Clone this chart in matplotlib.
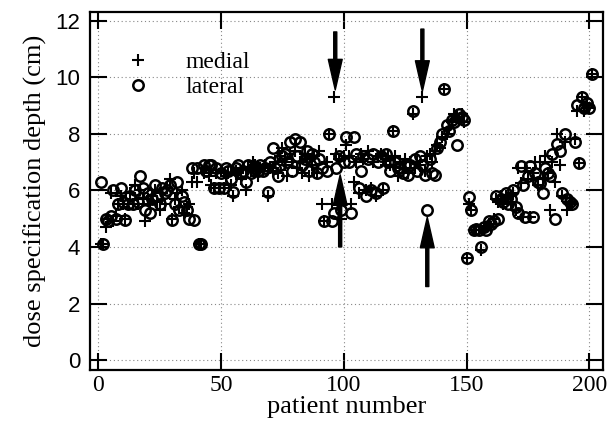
import matplotlib
matplotlib.use('Agg')
import matplotlib.pyplot as plt
import numpy as np

# dose specification depth per patient (cm)
medial = [
    4.1, 4.1, 4.7, 5.0, 5.9, 4.9, 5.1, 5.5, 5.8, 5.5,
    5.0, 5.5, 5.9, 5.5, 6.2, 5.5, 6.0, 5.7, 4.9, 5.7,
    5.5, 5.8, 6.0, 5.6, 5.3, 5.9, 5.5, 6.1, 6.4, 5.0,
    5.7, 5.9, 5.4, 6.0, 5.2, 5.4, 5.5, 6.3, 6.6, 6.3,
    4.1, 4.1, 6.6, 6.8, 6.5, 6.2, 6.1, 6.6, 6.1, 6.7,
    6.1, 6.5, 6.6, 6.2, 5.8, 6.7, 6.6, 6.4, 6.8, 6.0,
    6.8, 6.7, 7.0, 6.9, 6.5, 6.8, 6.7, 6.9, 5.8, 6.8,
    6.7, 7.0, 6.6, 7.2, 7.5, 6.9, 6.5, 7.3, 7.0, 7.4,
    6.8, 7.0, 6.6, 7.3, 7.1, 6.5, 6.9, 7.2, 6.6, 7.4,
    5.5, 4.9, 7.0, 8.0, 5.5, 9.3, 7.3, 7.1, 5.0, 7.2,
    7.6, 7.2, 5.5, 6.3, 7.0, 5.9, 7.3, 7.1, 6.0, 7.4,
    6.1, 7.0, 5.8, 7.2, 7.3, 6.0, 6.9, 7.2, 6.9, 8.1,
    7.2, 6.5, 7.0, 6.8, 7.1, 6.6, 7.0, 8.7, 6.8, 7.0,
    6.9, 9.3, 6.7, 7.2, 7.3, 7.0, 7.4, 7.6, 7.5, 7.9,
    9.6, 8.0, 8.2, 8.4, 8.7, 8.6, 8.5, 8.7, 8.4, 3.6,
    5.5, 5.3, 4.6, 4.6, 4.6, 3.9, 4.6, 4.7, 4.8, 4.7,
    5.0, 5.7, 5.6, 5.8, 5.5, 5.8, 5.7, 5.6, 5.9, 5.3,
    6.8, 6.25, 5.05, 6.8, 6.4, 5.05, 6.6, 7.0, 6.2, 7.0,
    6.4, 7.2, 6.6, 5.3, 7.0, 6.3, 8.0, 6.9, 5.8, 7.7,
    5.3, 5.6, 5.5, 7.8, 8.8, 6.95, 9.3, 8.8, 9.0, 8.9,
    10.1,
]
lateral = [
    6.3, 4.1, 5.0, 4.9, 5.1, 6.0, 5.0, 5.5, 6.1, 5.6,
    4.95, 5.5, 5.8, 5.5, 6.0, 5.6, 6.5, 6.1, 5.3, 5.9,
    5.2, 5.7, 6.2, 5.8, 5.5, 6.1, 5.9, 6.0, 6.2, 4.95,
    5.5, 6.3, 5.3, 5.8, 5.6, 5.3, 5.0, 6.8, 4.95, 6.8,
    4.1, 4.1, 6.9, 6.7, 6.9, 6.9, 6.1, 6.8, 6.1, 6.6,
    6.1, 6.8, 6.7, 6.4, 5.95, 6.8, 6.9, 6.6, 6.7, 6.3,
    6.9, 6.6, 6.8, 6.8, 6.7, 6.9, 6.7, 6.8, 5.95, 7.0,
    7.5, 6.8, 6.5, 6.9, 7.2, 7.3, 7.0, 7.7, 6.7, 7.8,
    7.2, 7.7, 6.9, 7.1, 7.4, 6.7, 7.3, 7.0, 6.6, 7.1,
    6.8, 4.9, 6.7, 8.0, 4.9, 5.2, 6.8, 7.2, 5.3, 7.0,
    7.9, 7.0, 5.2, 7.9, 7.3, 6.1, 6.7, 7.2, 5.8, 7.1,
    6.0, 7.3, 5.9, 7.0, 7.2, 6.1, 7.3, 7.0, 6.7, 8.1,
    7.0, 6.8, 6.8, 6.6, 6.9, 6.55, 6.9, 8.8, 7.1, 6.7,
    7.2, 6.9, 6.55, 5.3, 7.1, 6.6, 6.55, 7.5, 7.7, 8.0,
    9.6, 8.3, 8.1, 8.5, 8.4, 7.6, 8.7, 8.6, 8.5, 3.6,
    5.75, 5.3, 4.6, 4.65, 4.6, 4.0, 4.7, 4.6, 4.9, 4.8,
    4.9, 5.8, 5.0, 5.7, 5.6, 5.9, 5.5, 5.7, 6.0, 5.4,
    5.2, 6.85, 6.2, 5.05, 6.5, 6.85, 5.05, 6.6, 6.3, 6.25,
    5.9, 6.8, 6.6, 6.5, 7.3, 5.0, 7.65, 7.4, 5.9, 8.0,
    5.7, 5.6, 5.5, 7.7, 9.0, 6.95, 9.3, 8.9, 9.1, 8.9,
    10.1,
]
patient = np.arange(1, len(medial) + 1)

# arrows marking the outlier patients: (x, tail y, tip y)
arrows = [(96.5, 11.6, 9.55), (132.0, 11.7, 9.5),
          (98.5, 4.0, 6.55), (134.0, 2.6, 5.05)]

SERIF = ['Liberation Serif', 'DejaVu Serif']
SANS = ['Liberation Sans', 'DejaVu Sans']

fig = plt.figure(figsize=(6.07, 4.33), dpi=100)
ax = fig.add_axes([0.148, 0.1455, 0.845, 0.8265])

ax.plot(patient, medial, linestyle='none', marker='+', ms=8, mew=1.5,
        color='black', label='medial')
ax.plot(patient, lateral, linestyle='none', marker='o', ms=7.5, mew=1.8,
        mfc='none', mec='black', label='lateral')

for x, y0, y1 in arrows:
    ax.annotate('', xy=(x, y1), xytext=(x, y0),
                arrowprops=dict(facecolor='black', edgecolor='black',
                                width=2.2, headwidth=10, headlength=22))

ax.set_xlim(-3.5, 205.5)
ax.set_ylim(-0.35, 12.3)
ax.set_xticks([0, 50, 100, 150, 200])
ax.set_yticks([0, 2, 4, 6, 8, 10, 12])
ax.grid(True, color='#888888', linestyle=(0, (1, 2.5)), linewidth=0.8)

ax.tick_params(direction='in', length=12, width=1.5, top=True, right=True)
ax.tick_params(axis='y', pad=7)
for lab in ax.get_xticklabels():
    lab.set_fontfamily(SERIF)
    lab.set_fontsize(17)
for lab in ax.get_yticklabels():
    lab.set_fontfamily(SANS)
    lab.set_fontsize(16)
for sp in ax.spines.values():
    sp.set_linewidth(1.6)

ax.set_xlabel('patient number', family=SERIF, fontsize=19, labelpad=0)
ax.set_ylabel('dose specification depth (cm)', family=SERIF, fontsize=19, labelpad=6)

ax.legend(loc='upper left', bbox_to_anchor=(0.03, 0.95), frameon=False,
          prop={'family': SERIF, 'size': 17}, handlelength=1.0,
          handletextpad=1.5, labelspacing=0.15)

fig.savefig('out.png', dpi=100)
